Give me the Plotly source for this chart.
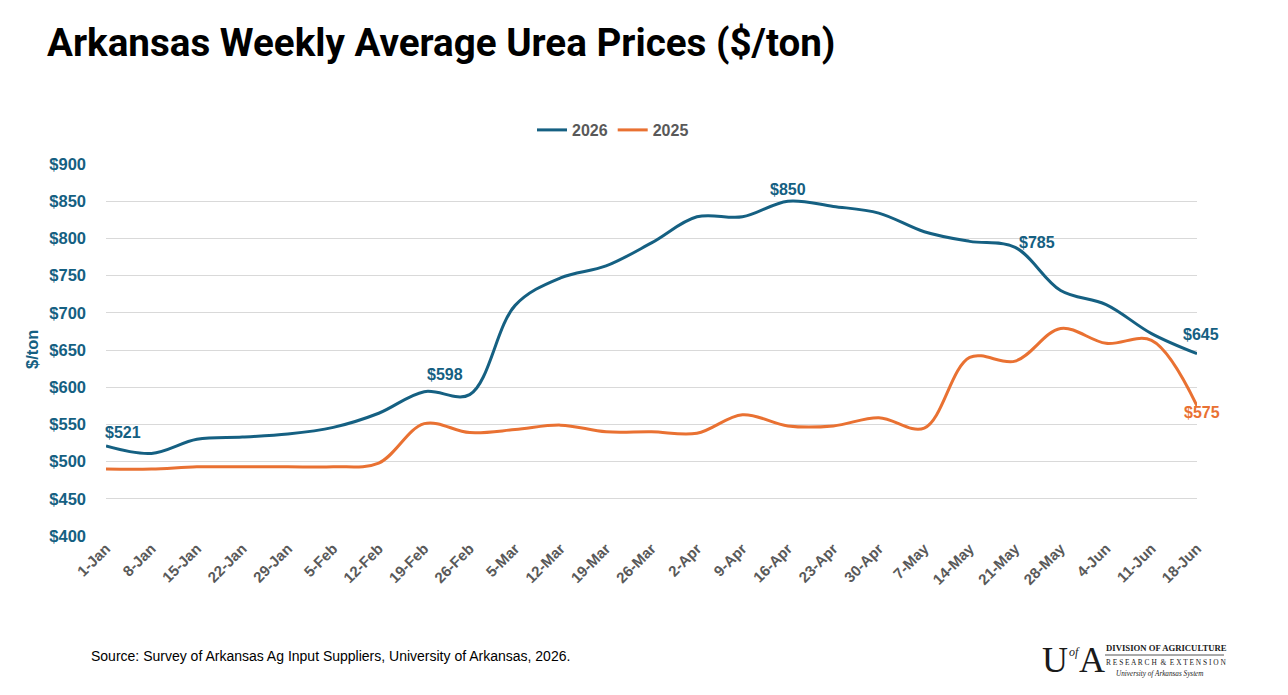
import plotly.graph_objects as go

weeks = ["1-Jan", "8-Jan", "15-Jan", "22-Jan", "29-Jan", "5-Feb", "12-Feb", "19-Feb", "26-Feb",
         "5-Mar", "12-Mar", "19-Mar", "26-Mar", "2-Apr", "9-Apr", "16-Apr", "23-Apr", "30-Apr",
         "7-May", "14-May", "21-May", "28-May", "4-Jun", "11-Jun", "18-Jun"]

prices_2026 = [521, 511, 530, 533, 537, 546, 565, 594, 590, 710, 747, 763, 794, 829, 829, 850,
               843, 834, 809, 796, 788, 730, 711, 672, 645]
prices_2025 = [490, 490, 493, 493, 493, 493, 498, 551, 539, 543, 549, 540, 540, 538, 563, 548,
               548, 559, 545, 640, 635, 679, 659, 663, 575]

# data labels: (week index, label text)
labels_2026 = [(0, "$521"), (7, "$598"), (15, "$850"), (20, "$785"), (24, "$645")]
labels_2025 = [(24, "$575")]

y_ticks = [400, 450, 500, 550, 600, 650, 700, 750, 800, 850, 900]
y_ticktext = ["$" + str(v) for v in y_ticks]

BLUE = "#156082"
ORANGE = "#E97132"
GRAY = "#595959"

W, H = 1288, 695
L, R, T, B = 106, 91, 164, 159
pw, ph = W - L - R, H - T - B


def px_x(x):
    return (x - L) / pw


def px_y(y):
    return (H - B - y) / ph


x_idx = list(range(len(weeks)))

fig = go.Figure()
fig.add_trace(go.Scatter(x=x_idx, y=prices_2026, name="2026", mode="lines",
                         line=dict(color=BLUE, width=3, shape="spline", smoothing=1.0),
                         cliponaxis=False))
fig.add_trace(go.Scatter(x=x_idx, y=prices_2025, name="2025", mode="lines",
                         line=dict(color=ORANGE, width=3, shape="spline", smoothing=1.0),
                         cliponaxis=False))

SANS = "Liberation Sans, Arial, sans-serif"
label_font = dict(family=SANS, size=16, color=BLUE, weight="bold")
shifts_2026 = {0: ("left", -3, 13), 7: ("left", 1, 17), 15: ("center", 0, 12),
               20: ("left", 2, 5), 24: ("center", 4, 19)}
for i, txt in labels_2026:
    anchor, xs, ys = shifts_2026[i]
    fig.add_annotation(x=i, y=prices_2026[i], xref="x", yref="y", text=txt, showarrow=False,
                       xanchor=anchor, yanchor="middle", xshift=xs, yshift=ys, font=label_font)
for i, txt in labels_2025:
    fig.add_annotation(x=i, y=prices_2025[i], xref="x", yref="y", text=txt, showarrow=False,
                       xanchor="center", yanchor="middle", xshift=5, yshift=-7,
                       font=dict(label_font, color=ORANGE))

# y-axis title
fig.add_annotation(x=px_x(32), y=0.5, xref="paper", yref="paper", text="$/ton", textangle=-90,
                   showarrow=False, xanchor="center", yanchor="middle",
                   font=dict(family=SANS, size=16.5, color=BLUE, weight="bold"))

# title
fig.add_annotation(x=px_x(45), y=px_y(42), xref="paper", yref="paper",
                   text="Arkansas Weekly Average Urea Prices ($/ton)",
                   showarrow=False, xanchor="left", yanchor="middle",
                   font=dict(family="Roboto, sans-serif", size=38.6, color="#000000", weight="bold"))

# source
fig.add_annotation(x=px_x(89), y=px_y(656), xref="paper", yref="paper",
                   text="Source: Survey of Arkansas Ag Input Suppliers, University of Arkansas, 2026.",
                   showarrow=False, xanchor="left", yanchor="middle",
                   font=dict(family=SANS, size=14, color="#000000"))

# logo (text based)
serif = "Liberation Serif, DejaVu Serif, serif"
logo = [
    (1041, 660, "U", 36, None),
    (1068, 652, "<i>of</i>", 12, None),
    (1078, 660, "A", 36, None),
    (1105, 648, "DIVISION OF AGRICULTURE", 8.7, "bold"),
    (1105, 662, "R E S E A R C H  &amp;  E X T E N S I O N", 7.4, None),
    (1115, 674, "<i>University of Arkansas System</i>", 7.2, None),
]
for x, y, txt, size, wt in logo:
    f = dict(family=serif, size=size, color="#1a1a1a")
    if wt:
        f["weight"] = wt
    fig.add_annotation(x=px_x(x), y=px_y(y), xref="paper", yref="paper", text=txt,
                       showarrow=False, xanchor="left", yanchor="middle", font=f, borderpad=0)
fig.add_shape(type="line", xref="paper", yref="paper", x0=px_x(1105), x1=px_x(1224),
              y0=px_y(655), y1=px_y(655), line=dict(color="#555555", width=1))

fig.update_layout(
    width=W, height=H,
    margin=dict(l=L, r=R, t=T, b=B),
    paper_bgcolor="white", plot_bgcolor="white",
    showlegend=True,
    legend=dict(orientation="h", x=px_x(613), y=1 + (164 - 130) / ph, xanchor="center",
                yanchor="middle", font=dict(family=SANS, size=16, color=GRAY, weight="bold"),
                itemwidth=30, tracegroupgap=0, bgcolor="rgba(0,0,0,0)"),
    xaxis=dict(range=[0, 24], tickvals=x_idx, ticktext=weeks, tickangle=-45, showgrid=False,
               zeroline=False, showline=False, ticks="",
               tickfont=dict(family=SANS, size=15, color=GRAY, weight="bold")),
    yaxis=dict(range=[400, 900], tickvals=y_ticks, ticktext=y_ticktext, showgrid=True,
               gridcolor="#D9D9D9", gridwidth=1, zeroline=False, showline=False, ticks="",
               ticklabelstandoff=19,
               tickfont=dict(family=SANS, size=16.5, color=BLUE, weight="bold")),
)

fig.write_html("out.html")
